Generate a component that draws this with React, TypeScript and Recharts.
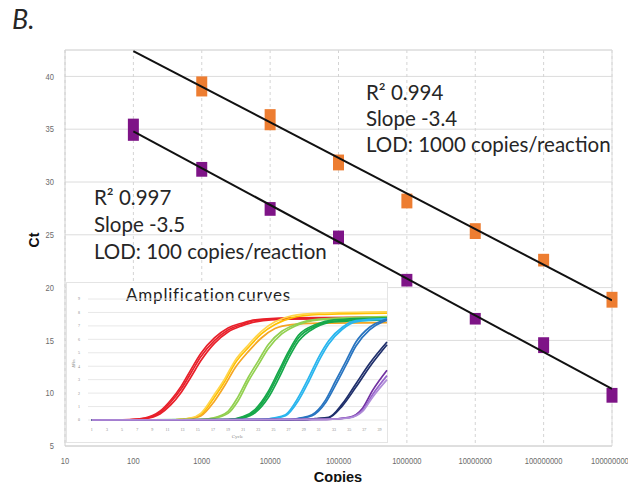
import React from 'react';
import {
  ScatterChart,
  Scatter,
  XAxis,
  YAxis,
  CartesianGrid,
  ErrorBar,
  ReferenceLine,
  LineChart,
  Line,
} from 'recharts';

// standard curve: copies per reaction vs Ct (replicate spread low..high)
const xTicks = [10, 100, 1000, 10000, 100000, 1000000, 10000000, 100000000, 1000000000];
const yTicks = [5, 10, 15, 20, 25, 30, 35, 40];

const orangeCopies = [1000, 10000, 100000, 1000000, 10000000, 100000000, 1000000000];
const orangeLow = [38.1, 34.9, 31.1, 27.5, 24.6, 22.0, 18.1];
const orangeHigh = [40.0, 36.9, 32.6, 28.9, 26.1, 23.2, 19.6];

const purpleCopies = [100, 1000, 10000, 100000, 1000000, 10000000, 100000000, 1000000000];
const purpleLow = [33.9, 30.5, 26.8, 24.1, 20.1, 16.5, 13.8, 9.1];
const purpleHigh = [36.0, 31.9, 28.1, 25.4, 21.3, 17.6, 15.3, 10.5];

// fitted lines (end points)
const fitX = [100, 1000000000];
const orangeFitY = [42.4, 18.8];
const purpleFitY = [34.8, 10.4];

// amplification curves inset: [cycle, dRn]
const redCurves = [
  [[1, 0], [6, 0.02], [8, 0.12], [10, 0.55], [11.4, 1.3], [12.8, 2.3], [14.1, 3.5], [15.4, 4.7], [17.2, 5.9], [19, 6.7], [20.8, 7.1], [22.6, 7.4], [27, 7.55], [40, 7.6]],
  [[1, 0], [6, 0.02], [8, 0.1], [10, 0.45], [11.4, 1.1], [12.8, 2.05], [14.1, 3.2], [15.4, 4.4], [17.2, 5.7], [19, 6.55], [20.8, 7.0], [22.6, 7.3], [27, 7.5], [40, 7.55]],
  [[1, 0], [6, 0.03], [8, 0.15], [10, 0.65], [11.4, 1.45], [12.8, 2.5], [14.1, 3.75], [15.4, 4.95], [17.2, 6.1], [19, 6.85], [20.8, 7.2], [22.6, 7.45], [27, 7.6], [40, 7.65]],
];
const yellowCurves = [
  [[1, 0], [12, 0.02], [14, 0.12], [15.4, 0.4], [17.2, 1.7], [18.6, 2.9], [19.9, 4.2], [21.7, 5.4], [23.4, 6.4], [25.2, 7.1], [27.4, 7.6], [31, 7.85], [40, 7.95]],
  [[1, 0], [12, 0.02], [14, 0.1], [15.4, 0.3], [17.2, 1.4], [18.6, 2.6], [19.9, 3.85], [21.7, 5.1], [23.4, 6.1], [25.2, 6.8], [27.4, 7.1], [31, 7.2], [40, 7.25]],
  [[1, 0], [12, 0.02], [14, 0.14], [15.4, 0.5], [17.2, 1.9], [18.6, 3.1], [19.9, 4.4], [21.7, 5.6], [23.4, 6.6], [25.2, 7.3], [27.4, 7.75], [31, 7.95], [40, 8.05]],
];
const yellowColors = ['#FFC000', '#F5A623', '#FFD54A'];
const lightGreenCurves = [
  [[1, 0], [15, 0.03], [17, 0.15], [19, 0.65], [20.3, 1.7], [21.7, 3.2], [23, 4.4], [24.3, 5.6], [26.1, 6.6], [27.9, 7.1], [31, 7.5], [40, 7.7]],
  [[1, 0], [15, 0.02], [17, 0.12], [19, 0.5], [20.3, 1.4], [21.7, 2.9], [23, 4.1], [24.3, 5.3], [26.1, 6.4], [27.9, 7.0], [31, 7.45], [40, 7.65]],
];
const greenCurves = [
  [[1, 0], [19, 0.03], [21, 0.2], [22.6, 0.67], [24.3, 1.9], [25.7, 3.4], [27, 4.9], [28.3, 6.1], [30.6, 7.0], [33, 7.35], [40, 7.5]],
  [[1, 0], [19, 0.02], [21, 0.15], [22.6, 0.55], [24.3, 1.65], [25.7, 3.1], [27, 4.6], [28.3, 5.85], [30.6, 6.9], [33, 7.3], [40, 7.45]],
  [[1, 0], [19, 0.03], [21, 0.25], [22.6, 0.8], [24.3, 2.1], [25.7, 3.65], [27, 5.1], [28.3, 6.3], [30.6, 7.1], [33, 7.45], [40, 7.6]],
];
const lightBlueCurves = [
  [[1, 0], [23, 0.03], [25, 0.15], [26.6, 0.4], [28.3, 1.7], [29.7, 3.2], [31, 4.7], [32.3, 5.9], [34.1, 6.9], [35.9, 7.4], [40, 7.55]],
  [[1, 0], [23, 0.02], [25, 0.12], [26.6, 0.32], [28.3, 1.45], [29.7, 2.9], [31, 4.4], [32.3, 5.65], [34.1, 6.75], [35.9, 7.3], [40, 7.5]],
];
const blueCurves = [
  [[1, 0], [27, 0.03], [28.5, 0.15], [30.1, 0.4], [31.9, 1.5], [33.2, 2.9], [34.6, 4.4], [35.9, 5.8], [37.7, 6.9], [39.4, 7.4], [40, 7.5]],
  [[1, 0], [27, 0.02], [28.5, 0.12], [30.1, 0.32], [31.9, 1.3], [33.2, 2.6], [34.6, 4.1], [35.9, 5.5], [37.7, 6.7], [39.4, 7.3], [40, 7.4]],
];
const navyCurves = [
  [[1, 0], [29, 0.03], [30.5, 0.1], [32.3, 0.2], [34.1, 1.2], [35.9, 2.7], [37.7, 4.2], [40, 5.8]],
  [[1, 0], [29, 0.02], [30.5, 0.08], [32.3, 0.17], [34.1, 1.05], [35.9, 2.45], [37.7, 3.95], [40, 5.6]],
];
const purpleCurves = [
  [[1, 0], [32, 0.05], [35, 0.2], [36.8, 0.9], [38.1, 2.2], [40, 3.7]],
  [[1, 0], [32, 0.04], [35, 0.17], [36.8, 0.75], [38.1, 1.9], [40, 3.3]],
  [[1, 0], [32, 0.04], [35, 0.15], [36.8, 0.65], [38.1, 1.7], [40, 3.0]],
];
const purpleColors = ['#7030A0', '#9966CC', '#B08ED8'];

const cycleTicks = [1, 3, 5, 7, 9, 11, 13, 15, 17, 19, 21, 23, 25, 27, 29, 31, 33, 35, 37, 39];
const rnTicks = [0, 1, 2, 3, 4, 5, 6, 7, 8, 9];

const ORANGE = '#ED7D31';
const PURPLE = '#7E1487';

const toPoints = (xs: number[], lo: number[], hi: number[]) =>
  xs.map((x, i) => {
    const y = (lo[i] + hi[i]) / 2;
    return { x, y, err: [y - lo[i], hi[i] - y] };
  });

const orangeData = toPoints(orangeCopies, orangeLow, orangeHigh);
const purpleData = toPoints(purpleCopies, purpleLow, purpleHigh);
const orangeFit = fitX.map((x, i) => ({ x, y: orangeFitY[i] }));
const purpleFit = fitX.map((x, i) => ({ x, y: purpleFitY[i] }));

const curveSeries = [
  ...redCurves.map((c) => ({ pts: c, color: '#E8202A' })),
  ...yellowCurves.map((c, i) => ({ pts: c, color: yellowColors[i] })),
  ...lightGreenCurves.map((c) => ({ pts: c, color: '#92D050' })),
  ...greenCurves.map((c) => ({ pts: c, color: '#16A84A' })),
  ...lightBlueCurves.map((c) => ({ pts: c, color: '#29B5EE' })),
  ...blueCurves.map((c) => ({ pts: c, color: '#2874C0' })),
  ...navyCurves.map((c) => ({ pts: c, color: '#1F2F6B' })),
  ...purpleCurves.map((c, i) => ({ pts: c, color: purpleColors[i] })),
].map((s) => ({ ...s, data: s.pts.map(([c, v]) => ({ c, v })) }));

const noShape = () => <g />;

// narrow gray tick text like the original's condensed font
const CHAR_W = 4.2;
const XTick = (props: any) => {
  const label = String(props.payload.value);
  return (
    <text
      x={props.x}
      y={props.y}
      dy="0.71em"
      textAnchor="middle"
      fontSize={8.2}
      fill="#6b6b6b"
      fontFamily='"Liberation Sans", Arial, sans-serif'
      textLength={label.length * CHAR_W}
      lengthAdjust="spacingAndGlyphs"
    >
      {label}
    </text>
  );
};
const YTick = (props: any) => {
  const label = String(props.payload.value);
  return (
    <text
      x={props.x}
      y={props.y}
      dy="0.355em"
      textAnchor="end"
      fontSize={9}
      fill="#6b6b6b"
      fontFamily='"Liberation Sans", Arial, sans-serif'
      textLength={label.length * CHAR_W}
      lengthAdjust="spacingAndGlyphs"
    >
      {label}
    </text>
  );
};

const noteStyle: React.CSSProperties = {
  position: 'absolute',
  fontFamily: 'Lato, sans-serif',
  fontSize: 20.5,
  color: '#262626',
  whiteSpace: 'nowrap',
};

function AmplificationInset() {
  return (
    <div
      style={{
        position: 'absolute',
        left: 66,
        top: 282,
        width: 322,
        height: 161,
        background: '#fff',
        border: '1px solid #e4e4e4',
        boxSizing: 'border-box',
      }}
    >
      <div
        style={{
          position: 'absolute',
          left: 59,
          top: 1,
          fontFamily: 'Lato, sans-serif',
          fontSize: 17,
          letterSpacing: 0.8,
          wordSpacing: -3,
          color: '#222',
          whiteSpace: 'nowrap',
        }}
      >
        Amplification curves
      </div>
      <div
        style={{
          position: 'absolute',
          left: 3,
          top: 78,
          fontSize: 4,
          color: '#888',
          fontFamily: 'sans-serif',
          transform: 'rotate(-90deg)',
        }}
      >
        ΔRn
      </div>
      <LineChart width={322} height={161} margin={{ top: 16, right: 2, bottom: 10, left: 9 }}>
        <CartesianGrid vertical={false} stroke="#e8e8e8" />
        <XAxis
          dataKey="c"
          type="number"
          domain={[0.5, 40]}
          ticks={cycleTicks}
          interval={0}
          axisLine={false}
          tickLine={false}
          tickMargin={2}
          height={14}
          tick={{ fontSize: 4, fill: '#888' }}
          label={{ value: 'Cycle', position: 'insideBottom', offset: -4, fontSize: 5, fill: '#888' }}
        />
        <YAxis
          type="number"
          domain={[0, 9]}
          ticks={rnTicks}
          interval={0}
          axisLine={false}
          tickLine={false}
          width={12}
          tickMargin={2}
          tick={{ fontSize: 4, fill: '#888' }}
        />
        {curveSeries.map((s, i) => (
          <Line
            key={i}
            data={s.data}
            dataKey="v"
            type="monotone"
            stroke={s.color}
            strokeWidth={1.7}
            dot={false}
            isAnimationActive={false}
          />
        ))}
      </LineChart>
    </div>
  );
}

export default function App() {
  return (
    <div style={{ position: 'relative', width: 636, height: 490, margin: -8, background: '#fff', overflow: 'hidden' }}>
      <ScatterChart width={636} height={490} margin={{ top: 50, right: 24, bottom: 14, left: 35 }}>
        <CartesianGrid vertical={false} stroke="#dcdcdc" />
        <CartesianGrid horizontal={false} stroke="#d4d4d4" strokeDasharray="3 3" />
        <ReferenceLine y={42.5} stroke="#dcdcdc" />
        <ReferenceLine x={1000000000} stroke="#dcdcdc" />
        <XAxis
          dataKey="x"
          type="number"
          scale="log"
          domain={[10, 1000000000]}
          ticks={xTicks}
          interval={0}
          allowDataOverflow
          height={30}
          axisLine={{ stroke: '#d0d0d0' }}
          tickLine={false}
          tickMargin={6}
          tick={XTick}
        />
        <YAxis
          dataKey="y"
          type="number"
          domain={[5, 42.5]}
          ticks={yTicks}
          interval={0}
          allowDataOverflow
          width={30}
          axisLine={{ stroke: '#d0d0d0' }}
          tickLine={false}
          tickMargin={5}
          tick={YTick}
        />
        <Scatter data={orangeData} fill={ORANGE} shape={noShape} isAnimationActive={false}>
          <ErrorBar dataKey="err" direction="y" width={0} stroke={ORANGE} strokeWidth={11} isAnimationActive={false} />
        </Scatter>
        <Scatter data={purpleData} fill={PURPLE} shape={noShape} isAnimationActive={false}>
          <ErrorBar dataKey="err" direction="y" width={0} stroke={PURPLE} strokeWidth={11} isAnimationActive={false} />
        </Scatter>
        <Scatter data={orangeFit} line={{ stroke: '#111', strokeWidth: 2 }} shape={noShape} isAnimationActive={false} />
        <Scatter data={purpleFit} line={{ stroke: '#111', strokeWidth: 2 }} shape={noShape} isAnimationActive={false} />
      </ScatterChart>

      <AmplificationInset />

      <div style={{ ...noteStyle, left: 12, top: 2, fontSize: 27, fontStyle: 'italic' }}>B.</div>
      <div
        style={{
          position: 'absolute',
          left: 24,
          top: 232,
          width: 20,
          height: 16,
          fontFamily: '"Liberation Sans", Arial, sans-serif',
          fontWeight: 'bold',
          fontSize: 14,
          color: '#111',
          transform: 'rotate(-90deg)',
          textAlign: 'center',
          lineHeight: '16px',
        }}
      >
        Ct
      </div>
      <div
        style={{
          position: 'absolute',
          left: 288,
          top: 469,
          width: 100,
          textAlign: 'center',
          fontFamily: '"Liberation Sans", Arial, sans-serif',
          fontWeight: 'bold',
          fontSize: 14.5,
          color: '#111',
        }}
      >
        Copies
      </div>

      <div style={{ ...noteStyle, left: 366, top: 79, lineHeight: '26px' }}>
        R² 0.994
        <br />
        Slope -3.4
        <br />
        LOD: 1000 copies/reaction
      </div>
      <div style={{ ...noteStyle, left: 94, top: 184, lineHeight: '27px' }}>
        R² 0.997
        <br />
        Slope -3.5
        <br />
        LOD: 100 copies/reaction
      </div>
    </div>
  );
}
